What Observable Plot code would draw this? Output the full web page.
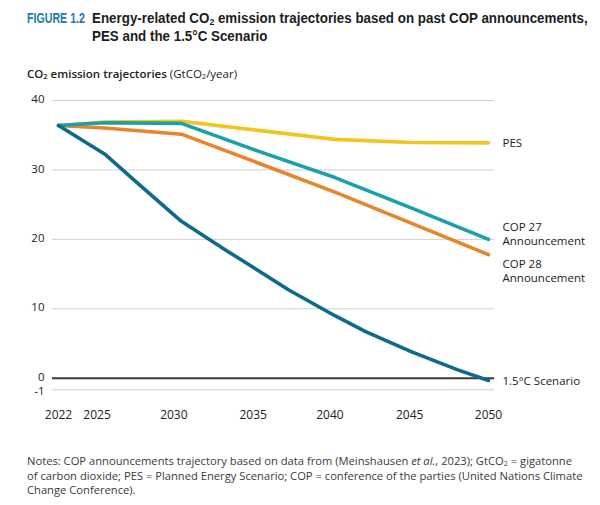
<!DOCTYPE html>
<html>
<head>
<meta charset="utf-8">
<script src="https://cdn.jsdelivr.net/npm/d3@7"></script>
<script src="https://cdn.jsdelivr.net/npm/@observablehq/plot@0.6"></script>
<style>
  body { margin: 0; background: #fff; }
  #wrap { position: relative; width: 600px; height: 505px; font-family: "Open Sans", "Lato", sans-serif; color: #222; overflow: hidden; }
  .cond { position: absolute; top: 9px; font-family: "Liberation Sans", Arimo, sans-serif; font-weight: bold; font-size: 14.5px; line-height: 18px; white-space: nowrap; transform-origin: 0 0; }
  .fig { left: 27px; color: #1a7bb0; }
  .ttl { left: 92px; color: #1c1c1c; }
  .sub { position: absolute; left: 27px; top: 66px; font-size: 11.5px; color: #222; }
  .sub b { font-weight: 600; }
  sub { font-size: 0.65em; vertical-align: -0.2em; line-height: 0; }
  #chart { position: absolute; left: 0; top: 85px; }
  .notes { position: absolute; left: 27px; top: 454px; font-size: 11.2px; line-height: 14.5px; color: #3a3a3a; white-space: nowrap; }
</style>
</head>
<body>
<div id="wrap">
  <div class="cond fig" id="fig">FIGURE 1.2</div>
  <div class="cond ttl" id="ttl">Energy-related CO<sub>2</sub> emission trajectories based on past COP announcements,<br>PES and the 1.5°C Scenario</div>
  <div class="sub"><b>CO<sub>2</sub> emission trajectories</b> (GtCO<sub>2</sub>/year)</div>
  <div id="chart"></div>
  <div class="notes">Notes: COP announcements trajectory based on data from (Meinshausen <i>et al.</i>, 2023); GtCO<sub>2</sub> = gigatonne<br>of carbon dioxide; PES = Planned Energy Scenario; COP = conference of the parties (United Nations Climate<br>Change Conference).</div>
</div>
<script>
// ---- data ----
const seriesNames = ["PES", "COP 28 Announcement", "COP 27 Announcement", "1.5°C Scenario"];
const pesYears = [2022, 2025, 2030, 2035, 2040, 2045, 2050];
const pesValues = [36.4, 36.9, 37.0, 35.7, 34.4, 33.95, 33.9];
const cop27Years = [2022, 2025, 2030, 2035, 2040, 2045, 2050];
const cop27Values = [36.4, 36.8, 36.7, 32.7, 28.9, 24.5, 20.0];
const cop28Years = [2022, 2025, 2030, 2035, 2040, 2045, 2050];
const cop28Values = [36.4, 36.05, 35.15, 31.0, 26.8, 22.3, 17.8];
const s15Years = [2022, 2025, 2027, 2030, 2033, 2035, 2037, 2040, 2042, 2045, 2048, 2050];
const s15Values = [36.4, 32.3, 28.4, 22.6, 18.3, 15.5, 12.7, 9.0, 6.7, 3.8, 1.2, -0.2];
const xTicks = [2022, 2025, 2030, 2035, 2040, 2045, 2050];
const yTicks = [-1, 0, 10, 20, 30, 40];
const labelPES = "PES";
const labelCOP27 = "COP 27\nAnnouncement";
const labelCOP28 = "COP 28\nAnnouncement";
const label15 = "1.5°C Scenario";

const colors = {"PES": "#f3c41f", "COP 27 Announcement": "#19a0aa", "COP 28 Announcement": "#e8852a", "1.5°C Scenario": "#0e6a8d"};

function rows(name, years, values) { return years.map((y, i) => ({series: name, year: y, value: values[i]})); }
const pes = rows("PES", pesYears, pesValues);
const cop27 = rows("COP 27 Announcement", cop27Years, cop27Values);
const cop28 = rows("COP 28 Announcement", cop28Years, cop28Values);
const s15 = rows("1.5°C Scenario", s15Years, s15Values);
const data = [...pes, ...cop28, ...cop27, ...s15];
const last = a => [a[a.length - 1]];

const labelStyle = {x: "year", y: "value", dx: 14, textAnchor: "start", fontSize: 11.5, fill: "#222", lineHeight: 1.2};
const tickStyle = {tickSize: 0, tickPadding: 15, fontSize: 12, tickFormat: d => String(d), label: null};
const yTickStyle = {tickSize: 0, tickPadding: 8, fontSize: 11.5, tickFormat: d => String(d), label: null};

const chart = Plot.plot({
  width: 600,
  height: 345,
  marginLeft: 52,
  marginRight: 106,
  marginTop: 10,
  marginBottom: 35,
  style: {fontFamily: "'Open Sans', Lato, sans-serif", fontSize: "12px", color: "#222", background: "transparent"},
  x: {type: "linear", domain: [2022, 2050], range: [58, 488]},
  y: {type: "linear", domain: [-1, 0, 40], range: [304.3, 292.7, 15]},
  color: {domain: seriesNames, range: seriesNames.map(n => colors[n])},
  marks: [
    Plot.gridY(yTicks.filter(d => d !== 0), {stroke: "#cfcfcf", strokeOpacity: 1, strokeWidth: 1}),
    Plot.ruleY([0], {stroke: "#3a3a3a", strokeWidth: 2}),
    Plot.axisY(yTicks.filter(d => d >= 0), {...yTickStyle, dy: -1}),
    Plot.axisY(yTicks.filter(d => d < 0), {...yTickStyle, dy: 1.5}),
    Plot.axisX(xTicks.filter(d => d === 2022 || d === 2050), tickStyle),
    Plot.axisX(xTicks.filter(d => d === 2025 || d === 2030), {...tickStyle, dx: -7.5}),
    Plot.axisX(xTicks.filter(d => d === 2035 || d === 2040), {...tickStyle, dx: -5}),
    Plot.axisX(xTicks.filter(d => d === 2045), {...tickStyle, dx: -2}),
    Plot.line(data, {x: "year", y: "value", z: "series", stroke: "series", strokeWidth: 3.6, strokeLinejoin: "round", strokeLinecap: "round"}),
    Plot.text(last(pes), {...labelStyle, text: () => labelPES}),
    Plot.text(last(cop27), {...labelStyle, dy: -6, text: () => labelCOP27}),
    Plot.text(last(cop28), {...labelStyle, dy: 16, text: () => labelCOP28}),
    Plot.text(last(s15), {...labelStyle, dy: 0, text: () => label15})
  ]
});
document.getElementById("chart").appendChild(chart);

// condense the title text horizontally to the reference's widths
function fit(id, target) {
  const el = document.getElementById(id);
  const w = el.scrollWidth;
  el.style.transform = "scaleX(" + (target / w) + ")";
}
fit("fig", 58);
fit("ttl", 496);
</script>
</body>
</html>
